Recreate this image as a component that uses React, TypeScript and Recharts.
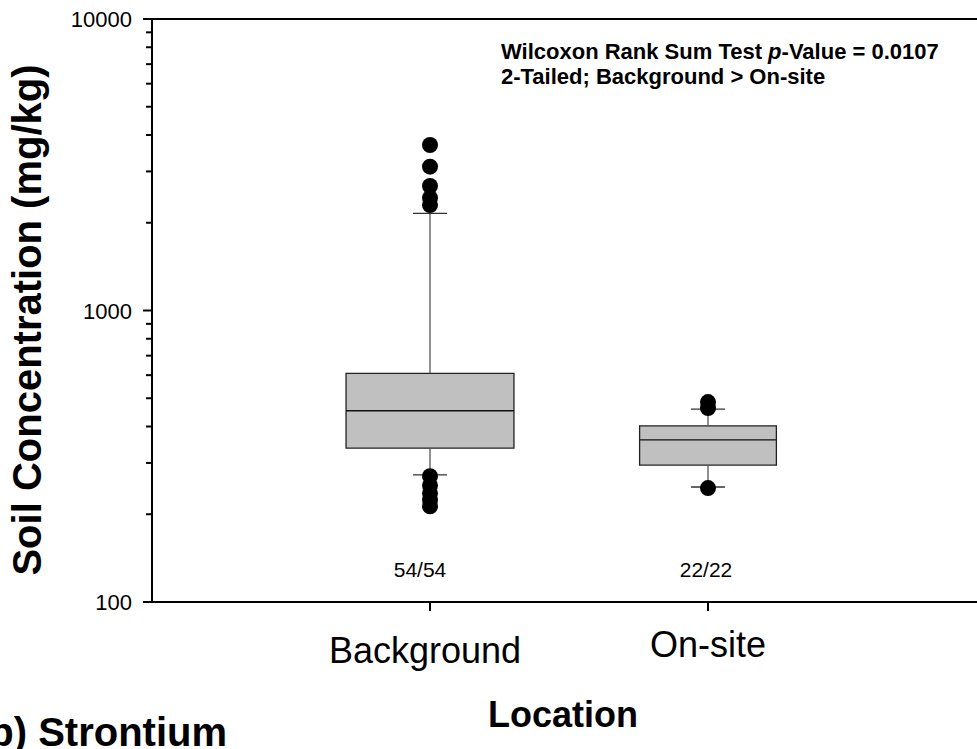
import {
  ComposedChart,
  XAxis,
  YAxis,
  Scatter,
  ReferenceArea,
  ReferenceLine,
} from "recharts";

// categories sit at x = 1, 2 on a 0..3 numeric axis
const categories = ["Background", "On-site"];
const counts = ["54/54", "22/22"];

// box stats, mg/kg
const q1 = [337, 295];
const median = [453, 360];
const q3 = [609, 402];
const whiskerLow = [273, 248];
const whiskerHigh = [2155, 459];

const outliersBackground = [3697, 3114, 2674, 2432, 2300, 270, 251, 236, 224, 213];
const outliersOnsite = [485, 463, 246];

const majorTicks = [100, 1000, 10000];
const minorTicks = [
  200, 300, 400, 500, 600, 700, 800, 900,
  2000, 3000, 4000, 5000, 6000, 7000, 8000, 9000,
];

// styling
const FONT = "Liberation Sans, Arial, sans-serif";
const Y_AXIS_WIDTH = 152;
const BOX_HALF = [0.302, 0.246];
const CAP_HALF = 0.061;
const LABEL_NUDGE: Record<string, { dx: number; dy: number; cdx: number }> = {
  Background: { dx: -5, dy: 52, cdx: -10 },
  "On-site": { dx: 0, dy: 46, cdx: -2 },
};

const outlierData = [
  ...outliersBackground.map((v) => ({ x: 1, y: v })),
  ...outliersOnsite.map((v) => ({ x: 2, y: v })),
];

function YTick(props: any) {
  const { y, payload } = props;
  const major = majorTicks.includes(payload.value);
  const len = major ? 9 : 6;
  return (
    <g>
      <line
        x1={Y_AXIS_WIDTH - len}
        x2={Y_AXIS_WIDTH}
        y1={y}
        y2={y}
        stroke="#000"
        strokeWidth={2}
      />
      {major && (
        <text
          x={Y_AXIS_WIDTH - 20}
          y={y}
          dy={8}
          textAnchor="end"
          fontFamily={FONT}
          fontSize={22}
          fill="#000"
        >
          {payload.value}
        </text>
      )}
    </g>
  );
}

function XTick(props: any) {
  const { x, y, payload } = props;
  const i = payload.value - 1;
  const name = categories[i];
  const n = LABEL_NUDGE[name];
  return (
    <g>
      <text
        x={x + n.cdx}
        y={y - 34}
        textAnchor="middle"
        fontFamily={FONT}
        fontSize={21}
        fill="#000"
      >
        {counts[i]}
      </text>
      <text
        x={x + n.dx}
        y={y + n.dy}
        textAnchor="middle"
        fontFamily={FONT}
        fontSize={36}
        fill="#000"
      >
        {name}
      </text>
    </g>
  );
}

const Dot = (props: any) => <circle cx={props.cx} cy={props.cy} r={8} fill="#000" />;

export default function App() {
  return (
    <div
      style={{
        position: "absolute",
        left: 0,
        top: 0,
        width: 977,
        height: 749,
        overflow: "hidden",
        background: "#fff",
      }}
    >
      <ComposedChart
        width={1000}
        height={749}
        margin={{ top: 19, right: 14, bottom: 0, left: 0 }}
      >
        <XAxis
          type="number"
          dataKey="x"
          domain={[0, 3]}
          ticks={[1, 2]}
          tickSize={9}
          tickMargin={0}
          axisLine={{ stroke: "#000", strokeWidth: 2 }}
          tickLine={{ stroke: "#000", strokeWidth: 2 }}
          tick={<XTick />}
          height={147}
          interval={0}
        />
        <YAxis
          type="number"
          dataKey="y"
          scale="log"
          domain={[100, 10000]}
          allowDataOverflow
          ticks={[...majorTicks, ...minorTicks]}
          interval={0}
          width={Y_AXIS_WIDTH}
          tickLine={false}
          axisLine={{ stroke: "#000", strokeWidth: 2 }}
          tick={<YTick />}
        />
        <ReferenceLine y={10000} stroke="#000" strokeWidth={2} ifOverflow="visible" />

        {categories.map((c, i) => {
          const cx = i + 1;
          return [
            <ReferenceLine
              key={c + "-wl"}
              segment={[{ x: cx, y: whiskerLow[i] }, { x: cx, y: q1[i] }]}
              stroke="#555"
              strokeWidth={1.3}
            />,
            <ReferenceLine
              key={c + "-wh"}
              segment={[{ x: cx, y: q3[i] }, { x: cx, y: whiskerHigh[i] }]}
              stroke="#555"
              strokeWidth={1.3}
            />,
            <ReferenceLine
              key={c + "-cl"}
              segment={[
                { x: cx - CAP_HALF, y: whiskerLow[i] },
                { x: cx + CAP_HALF, y: whiskerLow[i] },
              ]}
              stroke="#333"
              strokeWidth={1.3}
            />,
            <ReferenceLine
              key={c + "-ch"}
              segment={[
                { x: cx - CAP_HALF, y: whiskerHigh[i] },
                { x: cx + CAP_HALF, y: whiskerHigh[i] },
              ]}
              stroke="#333"
              strokeWidth={1.3}
            />,
            <ReferenceArea
              key={c + "-box"}
              x1={cx - BOX_HALF[i]}
              x2={cx + BOX_HALF[i]}
              y1={q1[i]}
              y2={q3[i]}
              fill="#c0c0c0"
              fillOpacity={1}
              stroke="#222"
              strokeWidth={1.3}
            />,
            <ReferenceLine
              key={c + "-med"}
              segment={[
                { x: cx - BOX_HALF[i], y: median[i] },
                { x: cx + BOX_HALF[i], y: median[i] },
              ]}
              stroke="#111"
              strokeWidth={1.3}
            />,
          ];
        })}

        <Scatter data={outlierData} shape={<Dot />} isAnimationActive={false} />
      </ComposedChart>

      <svg
        width={977}
        height={749}
        style={{ position: "absolute", left: 0, top: 0, pointerEvents: "none" }}
      >
        <text
          transform="translate(41,320) rotate(-90)"
          textAnchor="middle"
          fontFamily={FONT}
          fontWeight="bold"
          fontSize={40}
          fill="#000"
        >
          Soil Concentration (mg/kg)
        </text>
        <text
          x={563}
          y={727}
          textAnchor="middle"
          fontFamily={FONT}
          fontWeight="bold"
          fontSize={36}
          fill="#000"
        >
          Location
        </text>
        <text x={-24} y={746} fontFamily={FONT} fontWeight="bold" fontSize={40} fill="#000">
          (b) Strontium
        </text>
        <text x={501} y={59} fontFamily={FONT} fontWeight="bold" fontSize={22} fill="#000">
          Wilcoxon Rank Sum Test <tspan fontStyle="italic">p</tspan>-Value = 0.0107
        </text>
        <text x={501} y={84} fontFamily={FONT} fontWeight="bold" fontSize={22} fill="#000">
          2-Tailed; Background &gt; On-site
        </text>
      </svg>
    </div>
  );
}
